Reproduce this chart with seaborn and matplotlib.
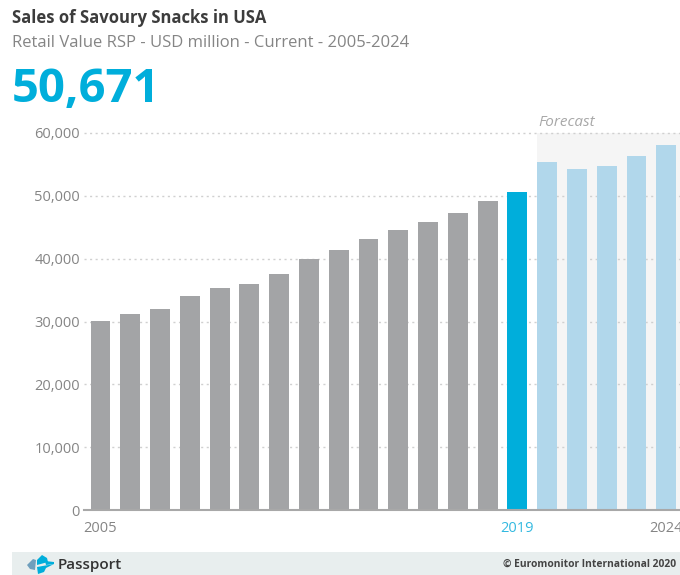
import matplotlib
matplotlib.use("Agg")
import matplotlib.pyplot as plt
from matplotlib.patches import Polygon, Rectangle
import pandas as pd
import seaborn as sns

years = list(range(2005, 2025))
values = [30100, 31200, 32000, 34000, 35400, 36000, 37600, 39900, 41400, 43200,
          44600, 45900, 47300, 49100, 50671, 55400, 54200, 54800, 56300, 58100]
bar_colors = ["#a3a4a6"] * 14 + ["#00aedb"] + ["#b1d7eb"] * 5
y_ticks = [0, 10000, 20000, 30000, 40000, 50000, 60000]
x_labels = {2005: "#858585", 2019: "#33b9e0", 2024: "#858585"}

sns.set_theme(style="white")
plt.rcParams["font.family"] = ["Open Sans", "DejaVu Sans"]

W, H = 680, 575
fig = plt.figure(figsize=(W / 100, H / 100), dpi=100)
ax = fig.add_axes([84 / W, 1 - 510 / H, (680 - 84) / W, (510 - 133) / H])

df = pd.DataFrame({"year": [str(y) for y in years], "value": values})
sns.barplot(data=df, x="year", y="value", hue="year", palette=bar_colors,
            legend=False, width=0.67, saturation=1, linewidth=0, ax=ax, zorder=3)

ax.set_xlim(-0.554, 19.46)
ax.set_ylim(0, 60000)
ax.set_xlabel("")
ax.set_ylabel("")

# Shaded band behind the forecast years
ax.axvspan(14.65, 19.46, color="#f5f5f5", lw=0, zorder=0)

ax.set_yticks(y_ticks)
ax.set_yticklabels([f"{v:,}" for v in y_ticks], fontsize=10.5, color="#858585")
ax.tick_params(axis="y", length=0, pad=3)
for v in y_ticks[1:]:
    ax.axhline(v, color="#d0d0d0", lw=1, ls=(0, (1.5, 2.5)), zorder=1, clip_on=False)

ax.set_xticks([])
for y, c in x_labels.items():
    ax.annotate(str(y), (y - 2005, 0), xytext=(0, -8), textcoords="offset points",
                ha="center", va="top", fontsize=10.5, color=c, annotation_clip=False)

for s in ["top", "right", "left"]:
    ax.spines[s].set_visible(False)
ax.spines["bottom"].set_color("#a8a8a8")
ax.spines["bottom"].set_linewidth(1.5)
ax.spines["bottom"].set_zorder(4)

def px_text(x, y, s, **kw):
    fig.text(x / W, 1 - y / H, s, **kw)

px_text(12, 18, "Sales of Savoury Snacks in USA", fontsize=12, fontweight="bold",
        color="#3c3c3c", va="center")
px_text(12, 43, "Retail Value RSP - USD million - Current - 2005-2024", fontsize=12,
        color="#858585", va="center")
px_text(12, 89, "50,671", fontsize=34, fontweight="bold", color="#00aedb", va="center")
px_text(538, 122, "Forecast", fontsize=11, style="italic", color="#a8a8a8", va="center")

# Footer strip with the Passport mark and copyright line
fig.add_artist(Rectangle((12 / W, 0), (W - 12) / W, 23 / H, transform=fig.transFigure,
                         color="#e8eeee", lw=0))
logo = [
    ([(27, 565), (33, 559), (36, 560), (35, 570), (30, 569)], "#6f9fbd"),
    ([(37, 560), (42, 555), (47, 558), (48, 562), (37, 565)], "#00aedb"),
    ([(37, 567), (54, 564), (46, 568), (44, 572), (38, 574)], "#00aedb"),
    ([(45, 561), (54, 562), (54, 564), (46, 565)], "#00aedb"),
]
for pts, col in logo:
    fig.add_artist(Polygon([(x / W, 1 - y / H) for x, y in pts], closed=True,
                           transform=fig.transFigure, color=col, lw=0))
px_text(58, 565, "Passport", fontsize=11, fontweight="semibold", color="#333333", va="center")
px_text(676, 564, "\u00a9 Euromonitor International 2020", fontsize=7.4, fontweight="bold",
        color="#444444", ha="right", va="center")

fig.savefig("out.png", dpi=100)
